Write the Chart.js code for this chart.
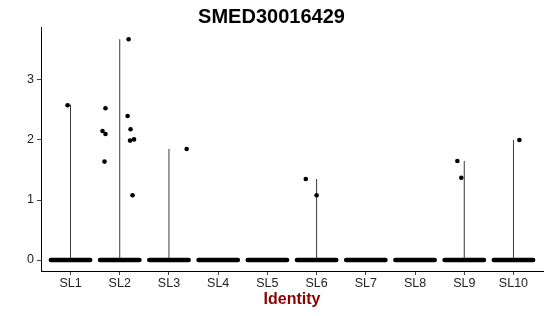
<!DOCTYPE html>
<html lang="en">
<head>
    <meta charset="UTF-8">
    <title>SMED30016429</title>
    <script src="https://cdn.jsdelivr.net/npm/chart.js"></script>
    <style>
        html, body { margin: 0; padding: 0; background: #fff; }
        .chart-container { width: 550px; height: 316px; position: relative; }
    </style>
</head>
<body>
    <div class="chart-container">
        <canvas id="vlnChart"></canvas>
    </div>

    <script>
        // clusters on the x axis
        const categories = ["SL1", "SL2", "SL3", "SL4", "SL5", "SL6", "SL7", "SL8", "SL9", "SL10"];
        // top of each (very thin) violin
        const violinMax = [2.59, 3.68, 1.85, 0, 0, 1.35, 0, 0, 1.65, 2.0];
        // cells with non-zero expression: cluster index, horizontal jitter, value
        const pointCluster = [1, 2, 2, 2, 2, 2, 2, 2, 2, 2, 2, 3, 6, 6, 9, 9, 10];
        const pointJitter  = [-0.06, 0.18, -0.29, -0.35, -0.29, 0.16, 0.22, 0.21, 0.29, -0.31, 0.26, 0.36, -0.22, 0.0, -0.14, -0.06, 0.12];
        const pointValue   = [2.58, 3.68, 2.53, 2.15, 2.10, 2.40, 2.18, 1.99, 2.01, 1.64, 1.08, 1.85, 1.35, 1.08, 1.65, 1.37, 2.00];
        // zero-expression cells fill the jitter width at y = 0
        const jitterWidth = 0.4;
        const yTicks = [0, 1, 2, 3];

        const pts = pointCluster.map((c, i) => ({ x: c + pointJitter[i], y: pointValue[i] }));

        const violinLines = [];
        const zeroBands = [];
        categories.forEach((name, i) => {
            const c = i + 1;
            if (violinMax[i] > 0) {
                violinLines.push({ x: c, y: 0 }, { x: c, y: violinMax[i] }, { x: c, y: null });
            }
            zeroBands.push({ x: c - jitterWidth, y: 0 }, { x: c + jitterWidth, y: 0 }, { x: c, y: null });
        });

        const font = "'Liberation Sans', Arial, sans-serif";

        const ctx = document.getElementById('vlnChart').getContext('2d');
        new Chart(ctx, {
            type: 'scatter',
            data: {
                datasets: [
                    {
                        label: "cells",
                        data: pts,
                        backgroundColor: "#000",
                        borderColor: "#000",
                        pointRadius: 2.3,
                        pointBorderWidth: 0
                    },
                    {
                        label: "zero",
                        data: zeroBands,
                        showLine: true,
                        spanGaps: false,
                        borderColor: "#000",
                        borderWidth: 4.5,
                        borderCapStyle: "round",
                        pointRadius: 0
                    },
                    {
                        label: "violin",
                        data: violinLines,
                        showLine: true,
                        spanGaps: false,
                        borderColor: "#3a3a3a",
                        borderWidth: 1,
                        pointRadius: 0
                    }
                ]
            },
            options: {
                responsive: true,
                maintainAspectRatio: false,
                animation: false,
                layout: { padding: { left: 0, right: 7, top: 0, bottom: 0 } },
                plugins: {
                    legend: { display: false },
                    tooltip: { enabled: false },
                    title: {
                        display: true,
                        text: "SMED30016429",
                        color: "#000",
                        font: { family: font, size: 20, weight: "bold", lineHeight: 1 },
                        padding: { top: 7, bottom: 0 }
                    }
                },
                scales: {
                    x: {
                        type: 'linear',
                        min: 0.4,
                        max: 10.6,
                        afterBuildTicks: axis => { axis.ticks = categories.map((n, i) => ({ value: i + 1 })); },
                        afterFit: axis => { axis.height = 45; },
                        ticks: {
                            color: "#222",
                            font: { family: font, size: 12.5 },
                            padding: 1,
                            maxRotation: 0,
                            autoSkip: false,
                            callback: v => categories[v - 1]
                        },
                        grid: { drawOnChartArea: false, drawTicks: true, tickLength: 4, color: "#444" },
                        border: { display: true, color: "#000", width: 1 },
                        title: {
                            display: true,
                            text: "Identity",
                            color: "#8B0000",
                            font: { family: font, size: 16, weight: "bold" },
                            padding: { top: 0, bottom: 7 }
                        }
                    },
                    y: {
                        type: 'linear',
                        min: -0.183,
                        max: 3.883,
                        afterBuildTicks: axis => { axis.ticks = yTicks.map(v => ({ value: v })); },
                        afterFit: axis => { axis.width = 41; },
                        ticks: {
                            color: "#222",
                            font: { family: font, size: 12.5 },
                            padding: 3
                        },
                        grid: { drawOnChartArea: false, drawTicks: true, tickLength: 4, color: "#444" },
                        border: { display: true, color: "#000", width: 1 }
                    }
                }
            }
        });
    </script>
</body>
</html>
